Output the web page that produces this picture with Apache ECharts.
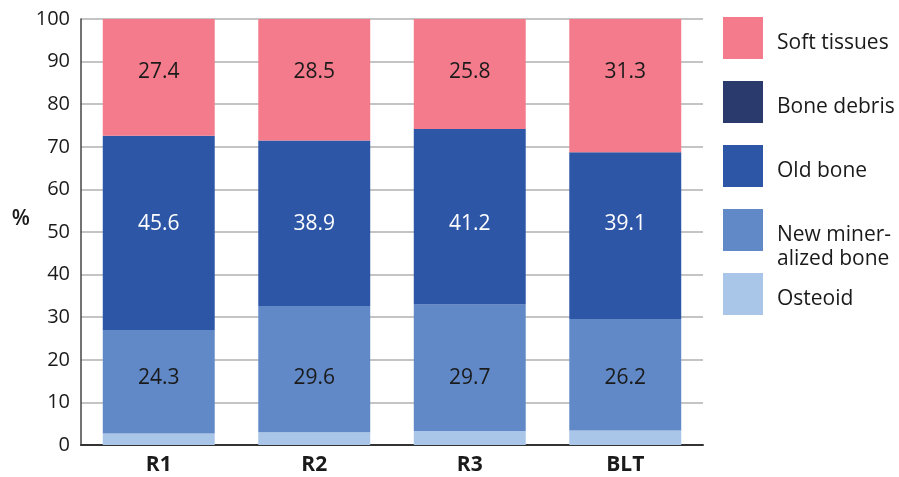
<!DOCTYPE html>
<html>
<head>
<meta charset="utf-8">
<script src="https://cdn.jsdelivr.net/npm/echarts@6/dist/echarts.min.js"></script>
<style>
  html, body { margin: 0; padding: 0; background: #fff; }
  #chart { width: 899px; height: 477px; }
</style>
</head>
<body>
<div id="chart"></div>
<script>
const categories = ['R1', 'R2', 'R3', 'BLT']
const osteoid = [2.7, 3.0, 3.3, 3.4]
const newBone = [24.3, 29.6, 29.7, 26.2]
const oldBone = [45.6, 38.9, 41.2, 39.1]
const boneDebris = [0, 0, 0, 0]
const softTissues = [27.4, 28.5, 25.8, 31.3]
const yTicks = [0, 10, 20, 30, 40, 50, 60, 70, 80, 90, 100]
// the value labels sit on one common height per layer
const labelLevels = { newBone: 15.7, oldBone: 51.9, softTissues: 87.6 }

const chart = echarts.init(document.getElementById('chart'))

const font = '"Open Sans", "Noto Sans", sans-serif'

function seg(name, data, color, labelColor, showLabel) {
  return {
    name: name,
    type: 'bar',
    stack: 'total',
    barWidth: '72%',
    data: data,
    itemStyle: { color: color },
    label: {
      show: showLabel,
      position: 'inside',
      color: labelColor,
      fontFamily: font,
      fontSize: 21,
      formatter: p => p.value.toFixed(1)
    },
    emphasis: { disabled: true }
  }
}

// legend text sits a little below the centre of its square
const legendText = {
  padding: [0, 0, 0, 9],
  rich: {
    s: { height: 11, lineHeight: 11, fontSize: 8 },
    s2: { height: 34, lineHeight: 34, fontSize: 8 },
    t: { fontSize: 21, lineHeight: 27, color: '#1a1a1a', fontFamily: font },
    t2: { fontSize: 21, lineHeight: 24, color: '#1a1a1a', fontFamily: font }
  }
}

function legendBox(top, names, fmt) {
  return {
    orient: 'vertical',
    left: 723,
    top: top,
    padding: 0,
    itemWidth: 40,
    itemHeight: 42,
    itemGap: 22,
    icon: 'rect',
    data: names,
    formatter: fmt,
    textStyle: legendText,
    selectedMode: false
  }
}

const option = {
  animation: false,
  textStyle: { fontFamily: font },
  grid: { left: 81, right: 196, top: 19, bottom: 32 },
  legend: [
    legendBox(17, ['Soft tissues', 'Bone debris', 'Old bone'], n => '{s| }\n{t|' + n + '}'),
    legendBox(189, ['New mineralized bone'], () => '{s2| }\n{t2|New miner-}\n{t2|alized bone}'),
    legendBox(273, ['Osteoid'], n => '{s| }\n{t|' + n + '}')
  ],
  xAxis: {
    type: 'category',
    data: categories,
    axisLine: { lineStyle: { color: '#333', width: 2 } },
    axisTick: { show: false },
    axisLabel: { fontSize: 21, fontWeight: 'bold', color: '#1a1a1a', margin: 10 }
  },
  yAxis: {
    type: 'value',
    min: yTicks[0],
    max: yTicks[yTicks.length - 1],
    interval: 10,
    name: '{p|%}\n{s| }',
    nameLocation: 'middle',
    nameRotate: 0,
    nameGap: 51,
    nameTextStyle: {
      rich: {
        p: { fontSize: 21, color: '#1a1a1a', fontWeight: 600, lineHeight: 26, fontFamily: font },
        s: { height: 26, lineHeight: 26, fontSize: 8 }
      }
    },
    axisLine: { show: true, lineStyle: { color: '#444', width: 1.5 } },
    axisTick: { show: false },
    axisLabel: { fontSize: 20, color: '#1a1a1a', margin: 11 },
    splitLine: { lineStyle: { color: '#b0b0b0', width: 1.5 } }
  },
  series: [
    seg('Osteoid', osteoid, '#A9C5E8', '#1a1a1a', false),
    seg('New mineralized bone', newBone, '#6189C7', '#1a1a1a', true),
    seg('Old bone', oldBone, '#2D56A6', '#ffffff', true),
    seg('Bone debris', boneDebris, '#2B3A6C', '#ffffff', false),
    seg('Soft tissues', softTissues, '#F37B8B', '#1a1a1a', true)
  ]
}

chart.setOption(option)

// shift each label from its segment centre to the common level of its layer
const layers = [osteoid, newBone, oldBone, boneDebris, softTissues]
const levelOf = [null, labelLevels.newBone, labelLevels.oldBone, null, labelLevels.softTissues]
const seriesUpdate = layers.map((vals, si) => {
  if (levelOf[si] == null) return {}
  return {
    data: vals.map((v, ci) => {
      let base = 0
      for (let k = 0; k < si; k++) base += layers[k][ci]
      const centre = chart.convertToPixel({ yAxisIndex: 0 }, base + v / 2)
      const level = chart.convertToPixel({ yAxisIndex: 0 }, levelOf[si])
      return { value: v, label: { offset: [0, level - centre] } }
    })
  }
})
chart.setOption({ series: seriesUpdate })
</script>
</body>
</html>
